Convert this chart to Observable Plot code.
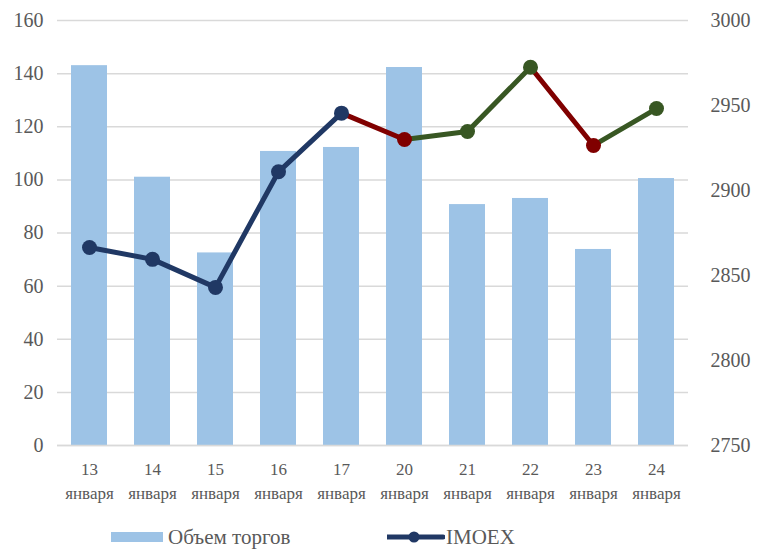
<!DOCTYPE html>
<html>
<head>
<meta charset="utf-8">
<script src="https://cdn.jsdelivr.net/npm/d3@7"></script>
<script src="https://cdn.jsdelivr.net/npm/@observablehq/plot@0.6"></script>
<style>
  html, body { margin: 0; padding: 0; background: #fff; }
  #wrap { position: relative; width: 759px; height: 549px; font-family: "Liberation Serif", "Times New Roman", serif; color: #595959; }
  #legend { position: absolute; left: 0; top: 526px; width: 759px; height: 22px; font-size: 21px; }
  .lg { position: absolute; top: 0; display: flex; align-items: center; height: 22px; }
</style>
</head>
<body>
<div id="wrap">
  <div id="chart"></div>
  <div id="legend">
    <div class="lg" style="left:111px"><span style="display:inline-block;width:52px;height:10px;background:#9DC3E6;margin-right:5px"></span><span>Объем торгов</span></div>
    <div class="lg" style="left:387px"><svg width="58" height="14" style="margin-right:1px"><line x1="0" y1="7" x2="56" y2="7" stroke="#203864" stroke-width="5" stroke-linecap="round"/><circle cx="27" cy="7" r="5.5" fill="#203864"/></svg><span>IMOEX</span></div>
  </div>
</div>
<script>
// ---- data ----
const days = ["13", "14", "15", "16", "17", "20", "21", "22", "23", "24"];
const month = "января";
const volume = [143, 101, 72.5, 110.7, 112.2, 142.3, 90.7, 93, 73.8, 100.5];
const imoex = [2866.5, 2859.5, 2843, 2911, 2945.5, 2930, 2934.7, 2972.5, 2926.5, 2948.2];
const trend = ["base", "base", "base", "base", "base", "down", "up", "up", "down", "up"];
const leftTicks = [0, 20, 40, 60, 80, 100, 120, 140, 160];
const rightTicks = [2750, 2800, 2850, 2900, 2950, 3000];

// ---- helpers ----
const serif = "'Liberation Serif', 'Times New Roman', serif";
const trendColor = {base: "#203864", down: "#800000", up: "#385723"};
const rMin = 2750, rMax = 3000, lMax = 160;
const toLeft = v => (v - rMin) / (rMax - rMin) * lMax;
const fromLeft = v => v / lMax * (rMax - rMin) + rMin;

const bars = days.map((d, i) => ({day: d, v: volume[i]}));
const pts = days.map((d, i) => ({day: d, v: toLeft(imoex[i]), c: trendColor[trend[i]]}));
const segs = pts.slice(1).map((p, i) => ({d1: pts[i].day, v1: pts[i].v, d2: p.day, v2: p.v, c: p.c}));

const chart = Plot.plot({
  width: 759,
  height: 549,
  marginTop: 20,
  marginBottom: 104,
  marginLeft: 57,
  marginRight: 71,
  style: {fontFamily: serif, color: "#595959", background: "#fff"},
  x: {domain: days, paddingInner: 0.43, paddingOuter: 0.215, label: null},
  y: {domain: [0, lMax], label: null},
  marks: [
    Plot.gridY(leftTicks, {stroke: "#d9d9d9", strokeOpacity: 1, strokeWidth: 1.5}),
    Plot.barY(bars, {x: "day", y: "v", fill: "#9DC3E6"}),
    Plot.ruleY([0], {stroke: "#d9d9d9", strokeWidth: 1.5}),
    Plot.link(segs, {x1: "d1", y1: "v1", x2: "d2", y2: "v2", stroke: "c", strokeWidth: 5, strokeLinecap: "round"}),
    Plot.dot(pts, {x: "day", y: "v", fill: "c", r: 7.5}),
    Plot.axisY(leftTicks, {anchor: "left", tickSize: 0, tickPadding: 14, fontSize: 20, fontFamily: serif, fill: "#595959", label: null}),
    Plot.axisY(rightTicks.map(toLeft), {anchor: "right", tickSize: 0, tickPadding: 22, fontSize: 20, fontFamily: serif, fill: "#595959", label: null, tickFormat: d => String(Math.round(fromLeft(d)))}),
    Plot.axisX({tickSize: 0, tickPadding: 12, fontSize: 17, fontFamily: serif, lineHeight: 1.42, fill: "#595959", label: null, tickFormat: d => d + "\n" + month})
  ]
});
document.getElementById("chart").appendChild(chart);
</script>
</body>
</html>
